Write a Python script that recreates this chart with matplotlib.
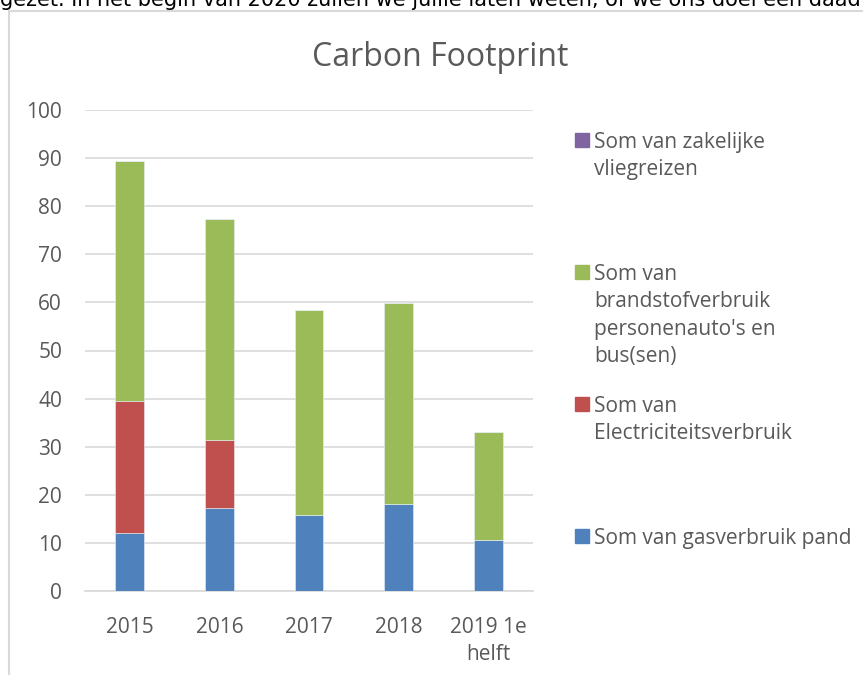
import numpy as np
import matplotlib.pyplot as plt
from matplotlib.patches import Rectangle
from matplotlib.lines import Line2D

plt.rcParams['font.family'] = ['Open Sans', 'DejaVu Sans']

# data
years = ['2015', '2016', '2017', '2018', '2019 1e\nhelft']
gas = [12.0, 17.3, 15.7, 18.1, 10.6]
elec = [27.5, 14.0, 0, 0, 0]
fuel = [50.0, 46.0, 42.7, 41.8, 22.4]
flights = [0, 0, 0, 0, 0]

series = [
    ('Som van gasverbruik pand', gas, '#4f81bd'),
    ('Som van\nElectriciteitsverbruik', elec, '#c0504d'),
    ("Som van\nbrandstofverbruik\npersonenauto's en\nbus(sen)", fuel, '#9bbb59'),
    ('Som van zakelijke\nvliegreizen', flights, '#8064a2'),
]

txt = '#595959'
W, H = 863, 675
fig = plt.figure(figsize=(W / 100, H / 100), dpi=100)

ax = fig.add_axes([85 / W, 1 - 591 / H, (533 - 85) / W, (591 - 110) / H])
x = np.arange(len(years))
bottom = np.zeros(len(years))
for name, vals, col in series:
    ax.bar(x, vals, 0.32, bottom=bottom, color=col, edgecolor='#e8eef7', linewidth=0.4, zorder=3)
    bottom += np.array(vals)

ax.set_xlim(-0.5, len(years) - 0.5)
ax.set_ylim(0, 100)
ax.set_yticks(range(0, 101, 10))
ax.set_xticks(x)
ax.set_xticklabels(years, linespacing=1.4)
ax.yaxis.grid(True, color='#d9d9d9', linewidth=1.2, zorder=0)
for s in ['top', 'right', 'left']:
    ax.spines[s].set_visible(False)
ax.spines['bottom'].set_color('#d9d9d9')
ax.spines['bottom'].set_linewidth(1.2)
ax.tick_params(length=0, labelsize=15, colors=txt)
ax.tick_params(axis='y', pad=16.5)
ax.tick_params(axis='x', pad=18.5)

fig.text(440 / W, 1 - 58 / H, 'Carbon Footprint', ha='center', va='center', fontsize=23, color=txt)

# legend, drawn by hand to keep the spacing of the original
legend_y = {'#8064a2': 140, '#9bbb59': 272, '#c0504d': 404, '#4f81bd': 536}
for name, vals, col in series:
    yy = legend_y[col]
    fig.patches.append(Rectangle((575 / W, 1 - (yy + 7) / H), 14 / W, 14 / H,
                                 transform=fig.transFigure, color=col))
    fig.text(594 / W, 1 - (yy - 8) / H, name, ha='left', va='top', fontsize=15,
             color=txt, linespacing=1.4)

# frame of the chart object
fig.add_artist(Line2D([9 / W, 9 / W, 1], [0, 1 - 11 / H, 1 - 11 / H], transform=fig.transFigure,
                      color='#d9d9d9', linewidth=1.5))

# cut-off line of document text above the chart
fig.text(0, 1 - 6 / H, 'gezet. In het begin van 2020 zullen we jullie laten weten, of we ons doel een daad',
         ha='left', va='baseline', fontsize=15, color='black', family='DejaVu Sans')

fig.savefig('out.png', dpi=100)
